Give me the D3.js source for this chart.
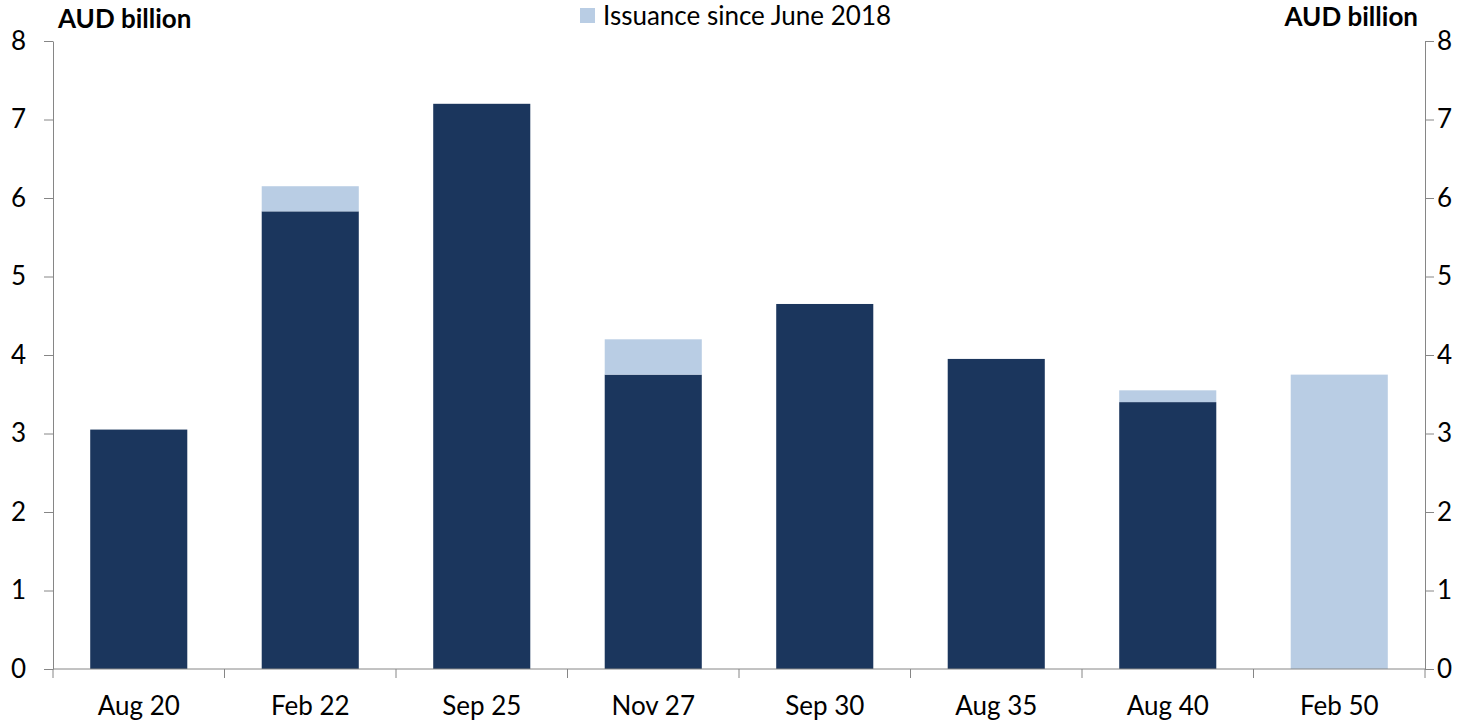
<!DOCTYPE html>
<html>
<head>
<meta charset="utf-8">
<script src="https://cdn.jsdelivr.net/npm/d3@7"></script>
<style>
  html, body { margin: 0; padding: 0; background: #fff; }
  svg { display: block; font-family: Lato, "Open Sans", sans-serif; }
</style>
</head>
<body>
<svg id="chart" width="1480" height="722"></svg>
<script>
// Bond lines (maturity) and outstanding amounts, AUD billion
const categories = ["Aug 20", "Feb 22", "Sep 25", "Nov 27", "Sep 30", "Aug 35", "Aug 40", "Feb 50"];
const existingStock = [3.05, 5.83, 7.20, 3.75, 4.65, 3.95, 3.40, 0];
const issuanceSinceJune2018 = [0, 0.32, 0, 0.45, 0, 0, 0.15, 3.75];
const yTicks = [0, 1, 2, 3, 4, 5, 6, 7, 8];
const seriesNames = ["Existing stock", "Issuance since June 2018"];
const unitLabel = "AUD billion";

const colors = { dark: "#1b365d", light: "#b9cde4", axis: "#868686", text: "#000" };
const fontSize = 26;

const svg = d3.select("#chart");
const m = { left: 53, right: 1425, top: 41, bottom: 669 };

const x = d3.scaleBand().domain(categories).range([m.left, m.right]).paddingInner(0.434).paddingOuter(0.217);
const y = d3.scaleLinear().domain([0, 8]).range([m.bottom, m.top]);

const rows = categories.map((c, i) => ({ cat: c, base: existingStock[i], extra: issuanceSinceJune2018[i] }));

// Existing stock (dark)
svg.append("g").selectAll("rect").data(rows).join("rect")
  .attr("x", d => x(d.cat))
  .attr("width", x.bandwidth())
  .attr("y", d => y(d.base))
  .attr("height", d => y(0) - y(d.base))
  .attr("fill", colors.dark);

// Issuance since June 2018 (light), stacked on top
svg.append("g").selectAll("rect").data(rows).join("rect")
  .attr("x", d => x(d.cat))
  .attr("width", x.bandwidth())
  .attr("y", d => y(d.base + d.extra))
  .attr("height", d => y(d.base) - y(d.base + d.extra))
  .attr("fill", colors.light);

// Left axis
const left = svg.append("g").attr("transform", `translate(${m.left},0)`)
  .call(d3.axisLeft(y).tickValues(yTicks).tickSize(9).tickSizeOuter(0).tickPadding(18));
// Right axis
const right = svg.append("g").attr("transform", `translate(${m.right},0)`)
  .call(d3.axisRight(y).tickValues(yTicks).tickSize(9).tickSizeOuter(0).tickPadding(3));
[left, right].forEach(g => {
  g.select(".domain").attr("stroke", colors.axis);
  g.selectAll(".tick line").attr("stroke", colors.axis);
  g.selectAll(".tick text").attr("fill", colors.text).attr("font-size", fontSize).attr("font-family", "Lato, sans-serif");
});

// Category axis: baseline with separators between categories
const bottom = svg.append("g");
bottom.append("line")
  .attr("x1", m.left).attr("x2", m.right)
  .attr("y1", y(0)).attr("y2", y(0))
  .attr("stroke", colors.axis);
const separators = d3.range(categories.length + 1).map(i => m.left + i * (m.right - m.left) / categories.length);
bottom.selectAll("line.sep").data(separators).join("line").attr("class", "sep")
  .attr("x1", d => d).attr("x2", d => d)
  .attr("y1", y(0)).attr("y2", y(0) + 9)
  .attr("stroke", colors.axis);
bottom.selectAll("text").data(categories).join("text")
  .attr("x", d => x(d) + x.bandwidth() / 2)
  .attr("y", 715)
  .attr("text-anchor", "middle")
  .attr("font-size", fontSize)
  .attr("fill", colors.text)
  .text(d => d);

// Unit labels
svg.append("text").attr("x", 58).attr("y", 28).attr("font-size", fontSize).attr("font-weight", "bold").text(unitLabel);
svg.append("text").attr("x", 1418).attr("y", 26).attr("text-anchor", "end").attr("font-size", fontSize).attr("font-weight", "bold").text(unitLabel);

// Legend
const lg = svg.append("g");
lg.append("rect").attr("x", 580).attr("y", 8).attr("width", 15).attr("height", 15).attr("fill", colors.light);
lg.append("text").attr("x", 603).attr("y", 25).attr("font-size", fontSize).attr("fill", colors.text).text(seriesNames[1]);
</script>
</body>
</html>
